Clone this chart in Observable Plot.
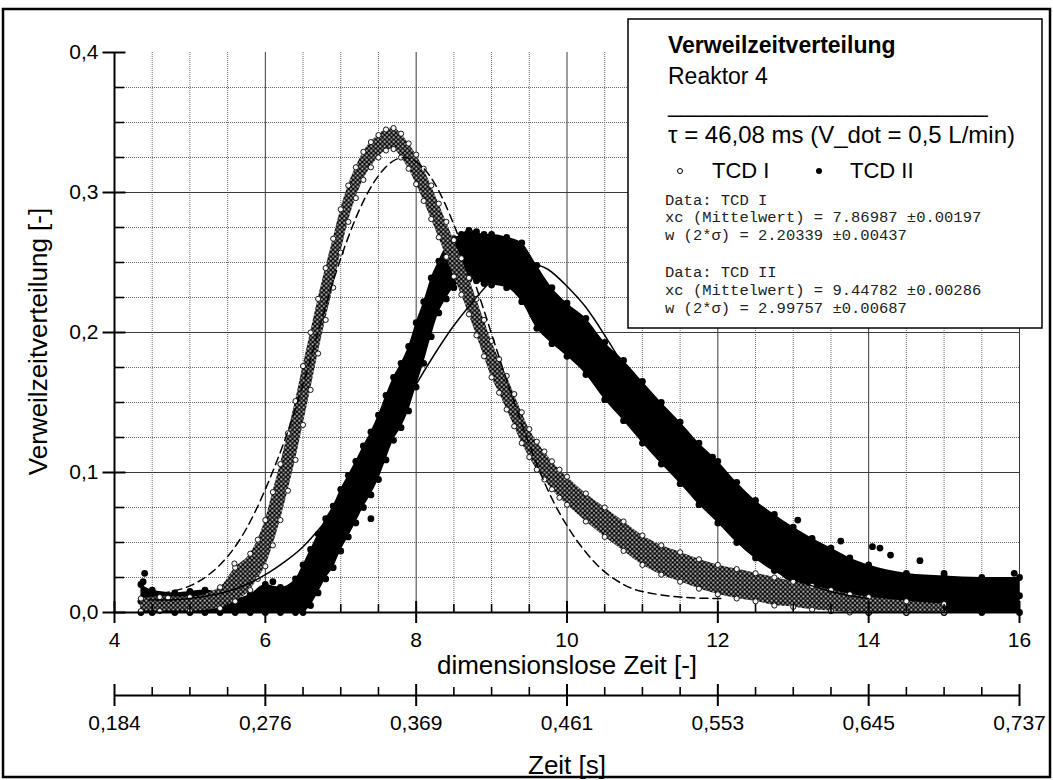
<!DOCTYPE html>
<html><head><meta charset="utf-8">
<script src="https://cdn.jsdelivr.net/npm/d3@7"></script>
<script src="https://cdn.jsdelivr.net/npm/@observablehq/plot@0.6"></script>
<style>
html,body{margin:0;padding:0;background:#fff;}
#wrap{position:relative;width:1053px;height:780px;overflow:hidden;}
#wrap svg{position:absolute;left:0;top:0;}
</style></head><body><div id="wrap"></div>
<script>
// ---- axis ticks & labels ----
const xMajor = [4, 6, 8, 10, 12, 14, 16];
const xTickLabels = ["4", "6", "8", "10", "12", "14", "16"];
const xMinor = [4.5, 5, 5.5, 6.5, 7, 7.5, 8.5, 9, 9.5, 10.5, 11, 11.5, 12.5, 13, 13.5, 14.5, 15, 15.5];
const xGridMajor = [6, 8, 10, 12, 14, 16];
const secTickLabels = ["0,184", "0,276", "0,369", "0,461", "0,553", "0,645", "0,737"];
const yMajor = [0, 0.1, 0.2, 0.3, 0.4];
const yTickLabels = ["0,0", "0,1", "0,2", "0,3", "0,4"];
const yMinor = [0.025, 0.05, 0.075, 0.125, 0.15, 0.175, 0.225, 0.25, 0.275, 0.325, 0.35, 0.375];
const yGridMajor = [0.1, 0.2, 0.3];

// ---- TCD I (open circles): band ----
const tcd1X = [4.35,4.6,5.0,5.4,5.6,5.8,5.9,6.0,6.1,6.2,6.3,6.4,6.5,6.6,6.7,6.8,6.9,7.0,7.1,7.2,7.3,7.4,7.5,7.6,7.7,7.8,7.9,8.0,8.1,8.2,8.3,8.4,8.5,8.6,8.7,8.8,8.9,9.0,9.1,9.2,9.3,9.4,9.5,9.6,9.7,9.8,9.9,10.0,10.25,10.5,10.75,11.0,11.25,11.5,11.75,12.0,12.25,12.5,12.75,13.0,13.25,13.5,13.75,14.0,14.5,15.0];
const tcd1Lo = [0.001,0.001,0.001,0.003,0.008,0.016,0.024,0.033,0.048,0.066,0.087,0.109,0.134,0.159,0.185,0.209,0.232,0.257,0.279,0.296,0.309,0.318,0.325,0.330,0.331,0.325,0.317,0.306,0.294,0.281,0.268,0.254,0.240,0.227,0.213,0.198,0.183,0.168,0.157,0.145,0.133,0.121,0.111,0.102,0.095,0.088,0.082,0.077,0.065,0.054,0.044,0.034,0.027,0.022,0.017,0.013,0.010,0.008,0.005,0.004,0.002,0.001,0,0,0,0];
const tcd1Mid = [0.005,0.006,0.006,0.010,0.020,0.030,0.039,0.051,0.068,0.086,0.108,0.130,0.155,0.180,0.205,0.228,0.250,0.274,0.293,0.308,0.320,0.328,0.334,0.339,0.340,0.334,0.326,0.316,0.305,0.293,0.280,0.266,0.253,0.240,0.226,0.211,0.196,0.181,0.169,0.157,0.144,0.132,0.121,0.112,0.105,0.098,0.092,0.087,0.075,0.064,0.054,0.044,0.037,0.032,0.027,0.023,0.020,0.018,0.015,0.013,0.010,0.008,0.006,0.005,0.003,0.002];
const tcd1Hi = [0.010,0.011,0.011,0.018,0.032,0.042,0.052,0.066,0.086,0.106,0.128,0.151,0.176,0.200,0.224,0.246,0.267,0.288,0.305,0.318,0.329,0.336,0.341,0.345,0.346,0.342,0.335,0.327,0.317,0.305,0.292,0.279,0.266,0.253,0.239,0.224,0.209,0.194,0.181,0.169,0.156,0.143,0.131,0.122,0.115,0.108,0.102,0.097,0.085,0.075,0.065,0.055,0.048,0.043,0.038,0.034,0.031,0.028,0.025,0.022,0.019,0.016,0.013,0.011,0.008,0.006];
const tcd1OutX = [4.71, 5.59];
const tcd1OutY = [0.0105, 0.035];

// ---- TCD II (filled circles): band ----
const tcd2X = [4.35,4.5,4.8,5.0,5.2,5.4,5.6,5.8,6.0,6.2,6.4,6.5,6.6,6.7,6.8,6.9,7.0,7.1,7.2,7.3,7.4,7.5,7.6,7.7,7.8,7.9,8.0,8.1,8.2,8.3,8.4,8.5,8.6,8.7,8.8,8.9,9.0,9.2,9.4,9.6,9.8,10.0,10.25,10.5,10.75,11.0,11.25,11.5,11.75,12.0,12.25,12.5,12.75,13.0,13.25,13.5,13.75,14.0,14.5,15.0,15.5,16.0];
const tcd2Lo = [0,0,0,0,0,0,0,0,0,0,0,0,0.005,0.014,0.024,0.032,0.044,0.054,0.064,0.075,0.084,0.095,0.109,0.123,0.132,0.144,0.161,0.178,0.197,0.214,0.224,0.232,0.236,0.238,0.237,0.235,0.234,0.232,0.222,0.203,0.192,0.183,0.170,0.152,0.137,0.121,0.106,0.092,0.077,0.064,0.050,0.039,0.030,0.020,0.013,0.007,0.002,0,0,0,0,0];
const tcd2Mid = [0.008,0.007,0.006,0.006,0.007,0.006,0.004,0.005,0.008,0.007,0.010,0.015,0.025,0.036,0.046,0.054,0.066,0.076,0.086,0.097,0.106,0.118,0.132,0.146,0.155,0.167,0.184,0.200,0.218,0.232,0.242,0.249,0.252,0.255,0.256,0.255,0.254,0.252,0.246,0.226,0.212,0.202,0.190,0.172,0.158,0.143,0.128,0.114,0.099,0.086,0.071,0.059,0.049,0.040,0.033,0.026,0.020,0.016,0.012,0.011,0.011,0.012];
const tcd2Hi = [0.020,0.016,0.014,0.015,0.016,0.014,0.010,0.013,0.020,0.018,0.024,0.034,0.045,0.056,0.067,0.076,0.088,0.098,0.108,0.119,0.129,0.141,0.155,0.168,0.178,0.190,0.207,0.222,0.239,0.251,0.262,0.267,0.270,0.273,0.272,0.270,0.270,0.268,0.264,0.248,0.232,0.221,0.210,0.193,0.180,0.165,0.150,0.136,0.121,0.108,0.093,0.080,0.070,0.061,0.053,0.046,0.039,0.034,0.028,0.026,0.025,0.025];
const tcd2OutX = [4.38, 4.40, 6.0, 6.1, 7.4, 9.35, 10.2, 11.87, 11.93, 13.06, 13.63, 14.05, 14.15, 14.29, 14.68, 15.0, 15.93];
const tcd2OutY = [0.022, 0.028, 0.018, 0.022, 0.067, 0.229, 0.178, 0.106, 0.111, 0.066, 0.051, 0.047, 0.046, 0.041, 0.037, 0.028, 0.028];

// ---- fitted curves ----
const fit1X = [4.45,4.75,5.0,5.25,5.5,5.75,6.0,6.25,6.5,6.75,7.0,7.25,7.5,7.75,8.0,8.25,8.5,8.75,9.0,9.25,9.5,9.75,10.0,10.25,10.5,10.75,11.0,11.5,12.1];
const fit1Y = [0.012,0.015,0.019,0.027,0.040,0.060,0.088,0.122,0.163,0.210,0.253,0.288,0.312,0.324,0.322,0.306,0.277,0.240,0.199,0.158,0.120,0.087,0.062,0.043,0.029,0.020,0.015,0.011,0.010];
const fit2X = [4.45,4.75,5.0,5.25,5.5,5.75,6.0,6.25,6.5,6.75,7.0,7.25,7.5,7.75,8.0,8.25,8.5,8.75,9.0,9.25,9.5,9.75,10.0,10.25,10.5,10.75,11.0,11.25,11.5,11.75,12.0,12.25,12.5,12.75,13.0,13.25,13.5,13.75,14.0];
const fit2Y = [0.009,0.009,0.010,0.012,0.015,0.020,0.027,0.036,0.047,0.062,0.078,0.096,0.118,0.140,0.163,0.185,0.205,0.222,0.237,0.246,0.249,0.245,0.233,0.218,0.198,0.176,0.151,0.127,0.104,0.083,0.066,0.051,0.039,0.030,0.024,0.019,0.015,0.012,0.010];

// ---- legend texts ----
const legendTitle = "Verweilzeitverteilung";
const legendSub = "Reaktor 4";
const legendRule = "_________________________";
const legendTau = "\u03c4 = 46,08 ms (V_dot = 0,5 L/min)";
const legendSeries = ["TCD I", "TCD II"];
const fitText = [
  "Data: TCD I",
  "xc (Mittelwert) = 7.86987 \u00b10.00197",
  "w (2*\u03c3) = 2.20339 \u00b10.00437",
  "",
  "Data: TCD II",
  "xc (Mittelwert) = 9.44782 \u00b10.00286",
  "w (2*\u03c3) = 2.99757 \u00b10.00687"
];

// ---- build tables ----
const tcd1 = tcd1X.map((x, i) => ({x, lo: tcd1Lo[i], mid: tcd1Mid[i], hi: tcd1Hi[i]}));
const tcd2 = tcd2X.map((x, i) => ({x, lo: tcd2Lo[i], mid: tcd2Mid[i], hi: tcd2Hi[i]}));
const tcd1Pts = tcd1.flatMap(d => [{x: d.x, y: d.lo}, {x: d.x, y: d.hi}]).concat(tcd1OutX.map((x, i) => ({x, y: tcd1OutY[i]})));
const tcd2Pts = tcd2.flatMap(d => [{x: d.x, y: d.lo}, {x: d.x, y: d.mid}, {x: d.x, y: d.hi}]).concat(tcd2OutX.map((x, i) => ({x, y: tcd2OutY[i]})));
const fit1 = fit1X.map((x, i) => ({x, y: fit1Y[i]}));
const fit2 = fit2X.map((x, i) => ({x, y: fit2Y[i]}));

const fmtX = d => xTickLabels[xMajor.indexOf(d)];
const fmtSec = d => secTickLabels[xMajor.indexOf(d)];
const fmtY = d => yTickLabels[yMajor.indexOf(d)];
const blank = () => "";
const SEC = 83; // offset of the secondary (Zeit [s]) axis below the primary one

const svg = Plot.plot({
  width: 1053, height: 780,
  marginLeft: 114, marginRight: 34, marginTop: 52, marginBottom: 168,
  style: {fontFamily: "'Liberation Sans', Arial, sans-serif", background: "transparent", color: "black"},
  x: {domain: [4, 16]},
  y: {domain: [0, 0.4]},
  marks: [
    // grid
    Plot.gridX({ticks: xMinor, stroke: "#6a6a6a", strokeOpacity: 1, strokeWidth: 1, strokeDasharray: "1,1"}),
    Plot.gridY({ticks: yMinor, stroke: "#6a6a6a", strokeOpacity: 1, strokeWidth: 1, strokeDasharray: "1,1"}),
    Plot.gridX({ticks: xGridMajor, stroke: "#3a3a3a", strokeOpacity: 1, strokeWidth: 1}),
    Plot.gridY({ticks: yGridMajor, stroke: "#3a3a3a", strokeOpacity: 1, strokeWidth: 1}),
    // TCD II
    Plot.areaY(tcd2, {x: "x", y1: "lo", y2: "hi", fill: "black", curve: "monotone-x"}),
    Plot.dot(tcd2Pts, {x: "x", y: "y", r: 3.4, fill: "black"}),
    // TCD I
    Plot.areaY(tcd1, {x: "x", y1: "lo", y2: "hi", fill: "url(#openCircles)", curve: "monotone-x"}),
    Plot.dot(tcd1Pts, {x: "x", y: "y", r: 2.6, fill: "#f4f4f4", stroke: "black", strokeWidth: 0.9}),
    // fits
    Plot.line(fit1, {x: "x", y: "y", stroke: "black", strokeWidth: 1.5, strokeDasharray: "8,5", curve: "natural"}),
    Plot.line(fit2, {x: "x", y: "y", stroke: "black", strokeWidth: 1.5, curve: "natural"}),
    // axis lines
    Plot.ruleX([4], {stroke: "black", strokeWidth: 2}),
    Plot.ruleY([0], {stroke: "black", strokeWidth: 2}),
    Plot.ruleY([0], {stroke: "black", strokeWidth: 2, dy: SEC}),
    // y axis
    Plot.axisY({ticks: yMajor, tickSize: 23, dx: 11.5, tickFormat: blank, strokeWidth: 2, label: null}),
    Plot.axisY({ticks: yMinor, tickSize: 10, dx: 10, tickFormat: blank, strokeWidth: 1.6, label: null}),
    Plot.axisY({ticks: yMajor, tickSize: 0, tickPadding: 16, tickFormat: fmtY, fontSize: 21, label: null}),
    // x axis (dimensionless)
    Plot.axisX({ticks: xMajor, tickSize: 22, dy: -11, tickFormat: blank, strokeWidth: 2, label: null}),
    Plot.axisX({ticks: xMinor, tickSize: 8, dy: -8, tickFormat: blank, strokeWidth: 1.6, label: null}),
    Plot.axisX({ticks: xMajor, tickSize: 0, tickPadding: 20, tickFormat: fmtX, fontSize: 21, label: null}),
    // secondary x axis (Zeit [s])
    Plot.axisX({ticks: xMajor, tickSize: 22, dy: SEC - 11, tickFormat: blank, strokeWidth: 2, label: null}),
    Plot.axisX({ticks: xMinor, tickSize: 8, dy: SEC - 8, tickFormat: blank, strokeWidth: 1.6, label: null}),
    Plot.axisX({ticks: xMajor, tickSize: 0, dy: SEC, tickPadding: 20, tickFormat: fmtSec, fontSize: 21, label: null}),
    // axis titles
    Plot.text(["dimensionslose Zeit [-]"], {text: d => d, frameAnchor: "bottom", dy: 53, fontSize: 26, lineAnchor: "middle", textAnchor: "middle"}),
    Plot.text(["Zeit [s]"], {text: d => d, frameAnchor: "bottom", dy: 153, fontSize: 26, lineAnchor: "middle", textAnchor: "middle"}),
    Plot.text(["Verweilzeitverteilung [-]"], {text: d => d, frameAnchor: "left", dx: -76, dy: 9, rotate: -90, fontSize: 26, lineAnchor: "middle", textAnchor: "middle"})
  ]
});

// pattern of overlapping open circles for the TCD I band
const defs = d3.select(svg).insert("defs", ":first-child");
const pat = defs.append("pattern").attr("id", "openCircles").attr("patternUnits", "userSpaceOnUse").attr("width", 4.5).attr("height", 4.5);
pat.append("rect").attr("width", 4.5).attr("height", 4.5).attr("fill", "#fff");
[[2.25, 2.25], [0, 0], [4.5, 0], [0, 4.5], [4.5, 4.5]].forEach(([cx, cy]) =>
  pat.append("circle").attr("cx", cx).attr("cy", cy).attr("r", 2.2).attr("fill", "none").attr("stroke", "#000").attr("stroke-width", 0.9));

const wrap = document.getElementById("wrap");
wrap.appendChild(svg);

// overlay: frame and legend box
const ov = d3.create("svg").attr("width", 1053).attr("height", 780)
  .style("font-family", "'Liberation Sans', Arial, sans-serif");
ov.append("rect").attr("x", 3).attr("y", 9).attr("width", 1047).attr("height", 768)
  .attr("fill", "none").attr("stroke", "black").attr("stroke-width", 2.5);
ov.append("rect").attr("x", 628).attr("y", 19).attr("width", 414).attr("height", 309)
  .attr("fill", "white").attr("stroke", "black").attr("stroke-width", 1.5);
ov.append("text").attr("x", 668).attr("y", 53).attr("font-size", 23).attr("font-weight", "bold").text(legendTitle);
ov.append("text").attr("x", 668).attr("y", 84).attr("font-size", 23).text(legendSub);
ov.append("text").attr("x", 668).attr("y", 112).attr("font-size", 23).text(legendRule);
ov.append("text").attr("x", 668).attr("y", 143).attr("font-size", 24).text(legendTau);
ov.append("circle").attr("cx", 680).attr("cy", 171).attr("r", 2.5).attr("fill", "white").attr("stroke", "black").attr("stroke-width", 1);
ov.append("text").attr("x", 712).attr("y", 178).attr("font-size", 22).text(legendSeries[0]);
ov.append("circle").attr("cx", 819).attr("cy", 171).attr("r", 3).attr("fill", "black");
ov.append("text").attr("x", 850).attr("y", 178).attr("font-size", 22).text(legendSeries[1]);
const monoY = [205, 222, 240, 258, 277, 295, 313];
fitText.forEach((t, i) => {
  if (t) ov.append("text").attr("x", 665).attr("y", monoY[i]).attr("font-size", 15.5)
    .attr("font-family", "'Liberation Mono', 'Courier New', monospace").attr("fill", "#222").text(t);
});
wrap.appendChild(ov.node());
</script></body></html>
